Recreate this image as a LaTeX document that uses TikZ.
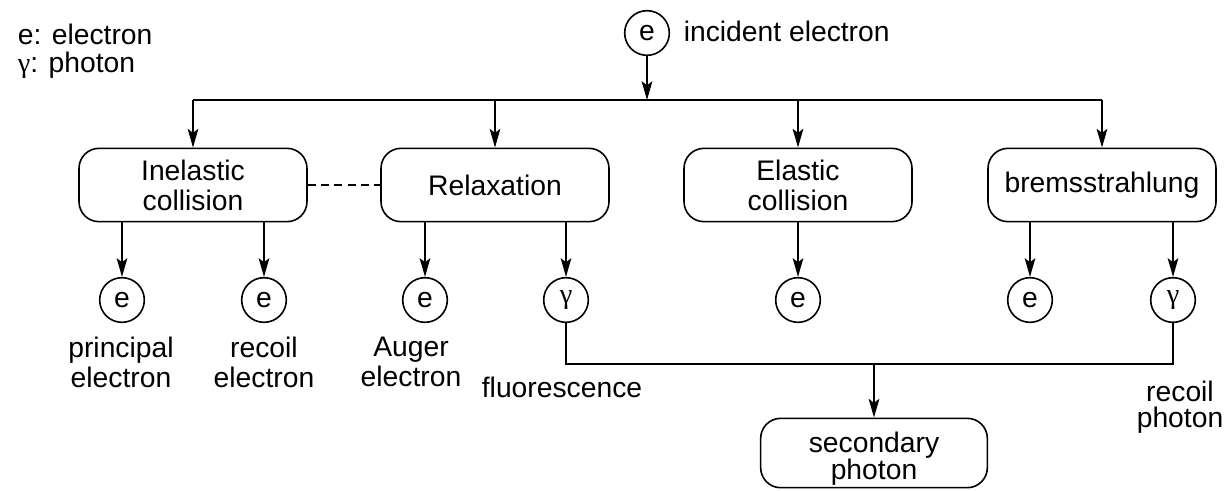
\documentclass[tikz,border=0pt]{standalone}
\usepackage{fontspec}
\setmainfont{Liberation Sans}
\newfontfamily\gfont{Liberation Serif}
\usetikzlibrary{arrows.meta}
\begin{document}
\begin{tikzpicture}[x=0.75pt,y=-0.75pt,
  every node/.style={font=\fontsize{21.2}{22.5}\selectfont},
  line width=1.2pt,
  arr/.style={-{Stealth[length=14pt,width=8pt,inset=3pt]}},
  part/.style={draw,circle,minimum size=33.5pt,inner sep=0pt},
  proc/.style={draw,rounded corners=15pt,minimum width=171pt,minimum height=55pt,align=center,inner sep=0pt},
  lab/.style={align=center,inner sep=0pt,anchor=north}]
\useasboundingbox (0,0) rectangle (1232,490);
% legend
\node[anchor=base west,inner sep=0pt] (leg1) at (17,44) {e: electron};
\node[anchor=base west,inner sep=0pt] (leg2) at (17,72) {{\gfont γ}: photon};
% incident
\node[part] (inc) at (647,33) {e};
\node[anchor=base west,inner sep=0pt] (inclab) at (683,41) {incident electron};
\coordinate (bus) at (647,100);
% boxes
\node[proc] (inel) at (193,185) {Inelastic\\collision};
\node[proc] (relax) at (495,185) {Relaxation};
\node[proc] (elas) at (798,185) {Elastic\\collision};
\node[proc] (brem) at (1102,185) {bremsstrahlung};
\draw[arr] (inc) -- (bus);
\draw (inel.north |- bus) -- (brem.north |- bus);
\foreach \b in {inel,relax,elas,brem}{\draw[arr] (\b.north |- bus) -- (\b.north);}
\draw[dashed,dash pattern=on 6pt off 4pt] (inel.east) -- (relax.west);
% particles
\node[part] (pe) at (122,300) {e};
\node[part] (re) at (264,300) {e};
\node[part] (ae) at (425,300) {e};
\node[part] (fg) at (566,300) {\gfont γ};
\node[part] (ee) at (798,300) {e};
\node[part] (be) at (1030,300) {e};
\node[part] (bg) at (1173,300) {\gfont γ};
\draw[arr] (pe |- inel.south) -- (pe);
\draw[arr] (re |- inel.south) -- (re);
\draw[arr] (ae |- relax.south) -- (ae);
\draw[arr] (fg |- relax.south) -- (fg);
\draw[arr] (ee |- elas.south) -- (ee);
\draw[arr] (be |- brem.south) -- (be);
\draw[arr] (bg |- brem.south) -- (bg);
% labels
\node[lab,font=\fontsize{21.2}{23}\selectfont] (l1) at (121,336) {principal\\electron};
\node[lab,font=\fontsize{21.2}{23}\selectfont] (l2) at (264,336) {recoil\\electron};
\node[lab,font=\fontsize{21.2}{23}\selectfont] (l3) at (411,336) {Auger\\electron};
\node[lab] (l4) at (562,376) {fluorescence};
\node[lab,font=\fontsize{21.2}{19.5}\selectfont] (l5) at (1180,380) {recoil\\photon};
% secondary
\node[proc,minimum width=170pt,minimum height=52pt,font=\fontsize{21.2}{17.5}\selectfont] (sec) at (874,453) {\raisebox{-10pt}[0pt][0pt]{\begin{tabular}{@{}c@{}}secondary\\photon\end{tabular}}};
\coordinate (bus2) at (874,364);
\draw (fg.south) -- (fg.south |- bus2) -- (bg.south |- bus2) -- (bg.south);
\draw[arr] (bus2) -- (sec.north);
\end{tikzpicture}
\end{document}
